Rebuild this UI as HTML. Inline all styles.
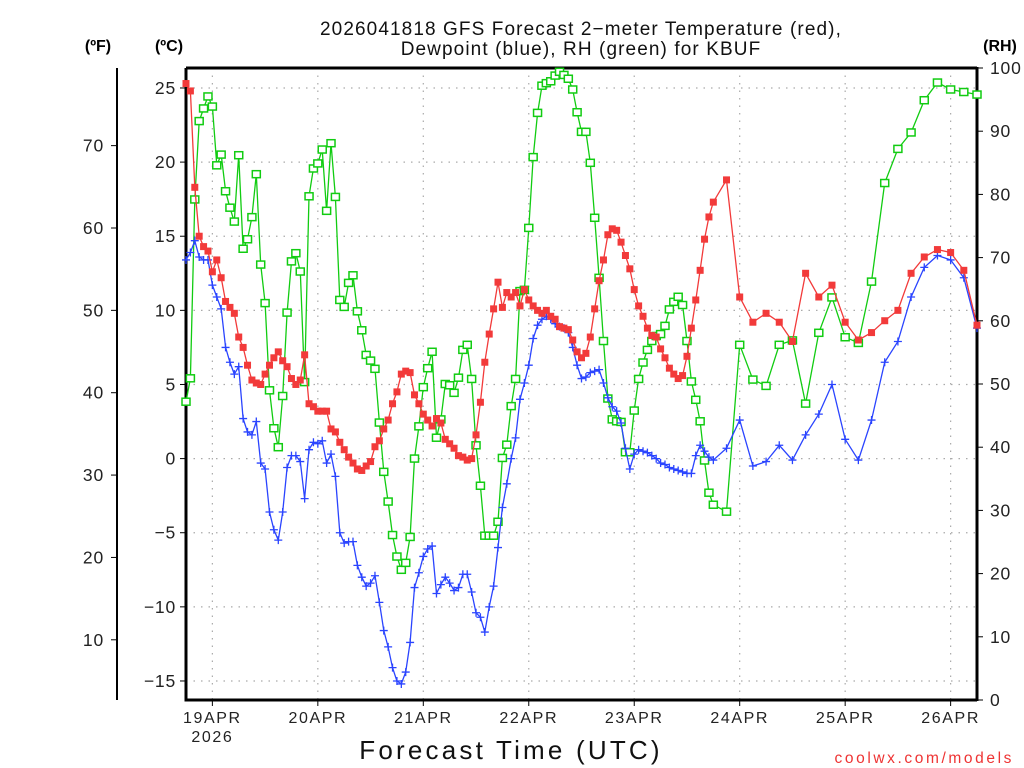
<!DOCTYPE html>
<html><head><meta charset="utf-8"><style>
html,body{margin:0;padding:0;background:#fff;}
svg{display:block;font-family:"Liberation Sans","DejaVu Sans",sans-serif;}
</style></head><body>
<svg id="chart" width="1024" height="768" viewBox="0 0 1024 768" xmlns="http://www.w3.org/2000/svg">
<rect width="1024" height="768" fill="#fff"/>
<text x="581" y="35" font-size="19" text-anchor="middle" letter-spacing="1.1" fill="#111">2026041818 GFS Forecast 2−meter Temperature (red),</text>
<text x="581" y="55" font-size="19" text-anchor="middle" letter-spacing="1.1" fill="#111">Dewpoint (blue), RH (green) for KBUF</text>
<text x="98" y="51" font-size="16" font-weight="bold" text-anchor="middle">(ºF)</text>
<text x="169" y="51" font-size="16" font-weight="bold" text-anchor="middle">(ºC)</text>
<text x="1000" y="51" font-size="16" font-weight="bold" text-anchor="middle">(RH)</text>
<text x="511" y="759" font-size="26" text-anchor="middle" letter-spacing="3.2" fill="#111">Forecast Time (UTC)</text>
<text x="1014" y="763" font-size="15.5" text-anchor="end" fill="#e33" letter-spacing="2.6">coolwx.com/models</text>
<g id="grid"></g><g id="axes"></g><g id="series"></g>
</svg>
<script>
const hours=[0,1,2,3,4,5,6,7,8,9,10,11,12,13,14,15,16,17,18,19,20,21,22,23,24,25,26,27,28,29,30,31,32,33,34,35,36,37,38,39,40,41,42,43,44,45,46,47,48,49,50,51,52,53,54,55,56,57,58,59,60,61,62,63,64,65,66,67,68,69,70,71,72,73,74,75,76,77,78,79,80,81,82,83,84,85,86,87,88,89,90,91,92,93,94,95,96,97,98,99,100,101,102,103,104,105,106,107,108,109,110,111,112,113,114,115,116,117,118,119,120,123,126,129,132,135,138,141,144,147,150,153,156,159,162,165,168,171,174,177,180];
const tempC=[25.3,24.8,18.3,15.0,14.3,14.0,12.6,13.4,12.2,10.6,10.2,9.8,8.2,7.5,6.3,5.3,5.1,5.0,5.7,6.3,6.8,7.2,6.6,6.2,5.4,5.0,5.3,7.0,3.7,3.5,3.2,3.2,3.2,2.0,1.8,1.1,0.6,0.1,-0.3,-0.7,-0.8,-0.5,-0.2,0.8,1.2,2.0,2.6,3.7,4.5,5.7,5.9,5.8,4.3,3.7,3.0,2.6,2.2,2.7,2.4,1.3,1.0,0.7,0.2,0.1,-0.1,0.0,1.6,3.8,6.5,8.4,10.1,11.9,10.2,11.2,10.9,11.2,10.3,11.4,10.7,10.3,10.0,9.8,10.0,9.6,9.4,8.9,8.8,8.7,8.0,7.2,6.8,7.1,8.2,10.1,12.0,13.4,15.1,15.5,15.4,14.6,13.7,12.8,11.4,10.3,9.6,8.8,8.3,8.2,7.4,6.8,6.1,5.7,5.4,5.6,6.9,8.8,10.7,12.7,14.8,16.3,17.3,18.8,10.9,9.2,9.8,9.2,7.9,12.5,10.9,11.7,9.2,8.0,8.5,9.3,10.0,12.5,13.6,14.1,13.9,12.7,9.0];
const dewC=[13.4,13.9,14.7,13.6,13.4,13.4,11.7,10.9,10.1,7.5,6.5,5.7,6.2,2.7,1.8,1.6,2.5,-0.3,-0.7,-3.6,-4.8,-5.5,-3.6,-0.6,0.2,0.2,-0.2,-2.7,0.6,1.1,1.0,1.2,-0.3,0.3,-1.2,-5.0,-5.7,-5.6,-5.6,-7.2,-8.0,-8.6,-8.4,-7.9,-9.7,-11.6,-12.7,-14.1,-15.0,-15.2,-14.4,-12.4,-8.7,-7.7,-6.6,-6.1,-5.9,-9.1,-8.5,-8.0,-8.4,-8.9,-8.7,-7.8,-7.8,-9.0,-10.4,-10.7,-11.7,-10.0,-8.6,-6.0,-3.3,-1.7,0.0,1.4,4.0,5.1,6.3,8.1,9.0,9.4,9.6,9.4,9.1,8.9,8.8,8.5,7.5,6.3,5.4,5.5,5.8,5.9,6.0,5.1,4.1,3.5,3.2,2.4,0.7,-0.7,0.3,0.6,0.5,0.4,0.2,0.0,-0.3,-0.4,-0.6,-0.7,-0.8,-0.9,-1.0,-1.0,0.2,0.9,0.5,0.1,-0.1,0.7,2.6,-0.5,-0.2,0.9,-0.1,1.6,3.0,5.0,1.3,-0.1,2.6,6.5,7.9,10.9,12.9,13.7,13.4,12.2,8.8];
const rhPct=[47.2,50.9,79.2,91.6,93.6,95.5,93.9,84.6,86.3,80.5,77.9,75.7,86.2,71.4,72.9,76.4,83.2,68.9,62.8,49.0,43.0,40.0,48.1,61.3,69.4,70.7,67.8,50.3,79.7,84.1,84.9,87.1,77.4,88.1,79.6,63.3,62.2,66.0,67.2,61.5,58.5,54.6,53.7,52.4,43.9,36.1,31.4,26.1,22.7,20.6,21.7,25.8,38.2,43.3,49.5,52.5,55.1,41.5,44.4,50.0,49.8,48.6,51.0,55.4,56.2,50.8,40.3,33.9,26.0,26.0,26.0,28.2,38.3,40.4,46.5,50.8,64.7,64.9,74.7,85.9,92.9,97.2,97.6,97.9,98.8,99.4,98.9,98.3,96.6,93.0,89.9,89.9,85.0,76.3,66.8,56.8,47.7,44.4,44.1,44.0,39.2,39.2,45.8,50.8,53.4,55.4,56.8,57.6,57.9,59.2,61.8,63.0,63.8,62.5,56.8,50.4,47.5,44.1,37.9,32.8,30.9,29.8,56.2,50.7,49.7,56.2,56.9,46.9,58.1,63.7,57.4,56.5,66.2,81.8,87.2,89.8,94.9,97.7,96.6,96.2,95.8];
const dayLabels=["19APR","20APR","21APR","22APR","23APR","24APR","25APR","26APR"];
const dayHours=[6,30,54,78,102,126,150,174];
const cTicks=[-15,-10,-5,0,5,10,15,20,25];
const fTicks=[10,20,30,40,50,60,70];
const rhTicks=[0,10,20,30,40,50,60,70,80,90,100];

const NS="http://www.w3.org/2000/svg";
const L=186,R=977,T=68,B=700;
const xS=h=>L+h*(R-L)/180;
const yC=c=>458.6-c*14.825;
const yF=f=>yC((f-32)*5/9);
const yRH=r=>B-r*(B-T)/100;
function mk(tag,attrs,parent){const e=document.createElementNS(NS,tag);for(const k in attrs)e.setAttribute(k,attrs[k]);parent.appendChild(e);return e;}
const grid=document.getElementById('grid'),axes=document.getElementById('axes'),ser=document.getElementById('series');

cTicks.forEach(c=>{
  const g=mk('line',{x1:L,x2:R,y1:yC(c),y2:yC(c),stroke:'#aaa','stroke-width':1.2,'stroke-dasharray':'1.5 6'},grid);
  
  mk('line',{x1:L-6,x2:L,y1:yC(c),y2:yC(c),stroke:'#000','stroke-width':1},axes);
  const t=mk('text',{x:L-10,y:yC(c)+6,'font-size':17.5,'text-anchor':'end','letter-spacing':0.8,fill:'#222'},axes);
  t.textContent=c<0?'−'+Math.abs(c):c;
  
});
dayHours.forEach((h,i)=>{
  const x=xS(h);
  const g=mk('line',{x1:x,x2:x,y1:T,y2:B,stroke:'#aaa','stroke-width':1.2,'stroke-dasharray':'1.5 6'},grid);
  
  mk('line',{x1:x,x2:x,y1:B,y2:B+6,stroke:'#000','stroke-width':1},axes);
  const t=mk('text',{x:x,y:723,'font-size':16,'text-anchor':'middle','letter-spacing':1.6,fill:'#222'},axes);
  t.textContent=dayLabels[i];
  
});
const yr=mk('text',{x:xS(dayHours[0]),y:742,'font-size':16,'text-anchor':'middle','letter-spacing':1.6,fill:'#222'},axes);
yr.textContent='2026';

const fa=mk('line',{x1:117,x2:117,y1:T,y2:B,stroke:'#000','stroke-width':2},axes);

fTicks.forEach(f=>{
  mk('line',{x1:111,x2:117,y1:yF(f),y2:yF(f),stroke:'#000','stroke-width':1},axes);
  const t=mk('text',{x:104,y:yF(f)+6,'font-size':17.5,'text-anchor':'end','letter-spacing':0.8,fill:'#222'},axes);
  t.textContent=f;
  
});
rhTicks.forEach(r=>{
  mk('line',{x1:R,x2:R+6,y1:yRH(r),y2:yRH(r),stroke:'#000','stroke-width':1},axes);
  const t=mk('text',{x:990,y:yRH(r)+6,'font-size':17.5,'text-anchor':'start','letter-spacing':0.8,fill:'#222'},axes);
  t.textContent=r;
  
});
const frame=mk('path',{d:`M${L} ${T}H${R}M${L} ${T}V${B}H${R}`,fill:'none',stroke:'#000','stroke-width':3},axes);

const ra=mk('line',{x1:R,x2:R,y1:T-1,y2:B+1,stroke:'#000','stroke-width':3},axes);


function series(vals,yfn,color,name,marker){
  const g=mk('g',{},ser);
  
  
  const pts=vals.map((v,i)=>xS(hours[i]).toFixed(1)+','+yfn(v).toFixed(1)).join(' ');
  mk('polyline',{points:pts,fill:'none',stroke:color,'stroke-width':1.3},g);
  vals.forEach((v,i)=>{
    const x=xS(hours[i]),y=yfn(v);let m;
    if(marker==='fill')m=mk('rect',{x:x-3.5,y:y-3.5,width:7,height:7,fill:color},g);
    else if(marker==='open')m=mk('rect',{x:x-4,y:y-3.5,width:8,height:7,fill:'#fff',stroke:color,'stroke-width':1.5},g);
    else m=mk('path',{d:`M${x-4} ${y}H${x+4}M${x} ${y-4}V${y+4}`,stroke:color,'stroke-width':1.3},g);
    
    
  });
}
series(rhPct,yRH,'#11cc11','rh-series','open');
series(dewC,yC,'#2a44ff','dewpoint-series','plus');
series(tempC,yC,'#f23a3a','temperature-series','fill');
</script>
</body></html>
